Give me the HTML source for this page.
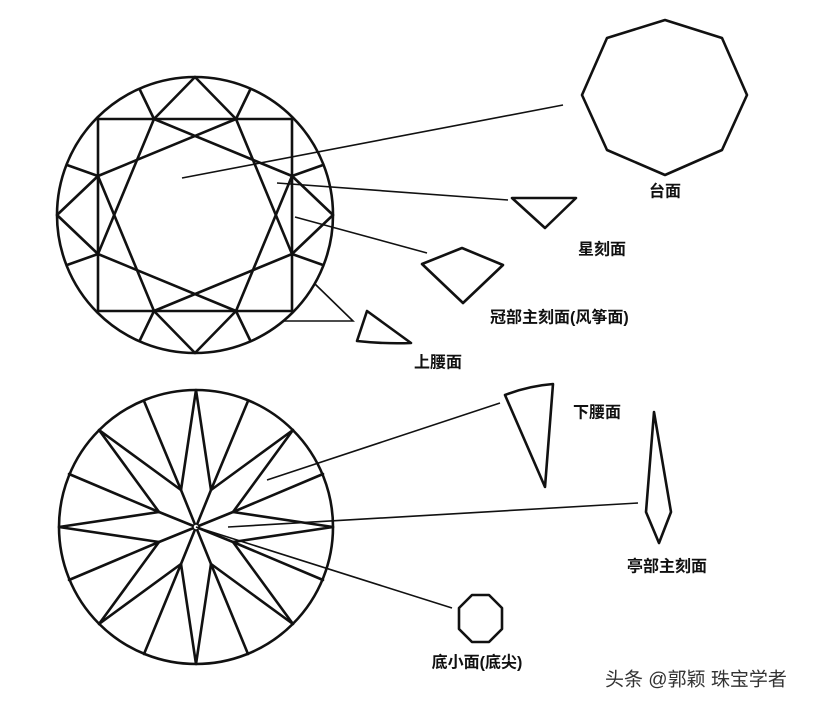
<!DOCTYPE html>
<html><head><meta charset="utf-8"><style>
html,body{margin:0;padding:0;background:#fff;}
svg{display:block;}
text{font-family:"Liberation Sans","Noto Sans CJK SC",sans-serif;font-weight:bold;font-size:16px;fill:#111;}
</style></head><body>
<svg width="823" height="708" viewBox="0 0 823 708" xmlns="http://www.w3.org/2000/svg">
<g fill="none" stroke="#111" stroke-width="2.6" stroke-linejoin="round" stroke-linecap="round">
<!-- top crown -->
<circle cx="195" cy="215" r="138"/>
<rect x="98" y="119" width="194" height="192"/>
<polygon points="154,119 292,176 236,311 98,254"/>
<polygon points="236,119 292,254 154,311 98,176"/>
<polyline points="154,119 195,77 236,119"/>
<polyline points="292,176 333,215 292,254"/>
<polyline points="236,311 195,353 154,311"/>
<polyline points="98,254 57,215 98,176"/>
<line x1="154" y1="119" x2="140" y2="90"/>
<line x1="236" y1="119" x2="250" y2="90"/>
<line x1="292" y1="176" x2="323" y2="165"/>
<line x1="292" y1="254" x2="323" y2="265"/>
<line x1="236" y1="311" x2="250" y2="340"/>
<line x1="154" y1="311" x2="140" y2="340"/>
<line x1="98" y1="254" x2="67" y2="265"/>
<line x1="98" y1="176" x2="67" y2="165"/>
<!-- bottom pavilion -->
<circle cx="196" cy="527" r="137"/>
<polygon points="333,527 233,542 293,624 211,564 196,664 181,564 99,624 159,542 59,527 159,512 99,430 181,490 196,390 211,490 293,430 233,512"/>
<path d="M196,527L233,542M196,527L211,564M196,527L181,564M196,527L159,542M196,527L159,512M196,527L181,490M196,527L211,490M196,527L233,512"/>
<path d="M233,542L323,580M211,564L248,654M181,564L144,654M159,542L69,580M159,512L69,474M181,490L144,401M211,490L248,401M233,512L323,474"/>
<circle cx="196" cy="527" r="3" stroke-width="1.5" fill="#fff"/>
<!-- shapes right -->
<polygon points="665,20 722,38 747,95 722,150 665,175 607,150 582,95 607,38"/>
<polygon points="512,198 576,198 545,228"/>
<polygon points="422,264 462,248 503,265 463,303"/>
<path d="M367,311L411,343Q384,344 357,341Z"/>
<path d="M505,395Q528,386 553,384L545,487Z"/>
<polygon points="654,412 671,512 659,543 646,512"/>
<polygon points="472,595 489,595 502,608 502,629 489,642 472,642 459,629 459,608"/>
</g>
<g stroke="#111" stroke-width="1.6" fill="none">
<line x1="182" y1="178" x2="563" y2="105"/>
<line x1="277" y1="183" x2="508" y2="200"/>
<line x1="295" y1="217" x2="427" y2="253"/>
<polyline points="315,284 353,321 283,321"/>
<line x1="267" y1="480" x2="500" y2="403"/>
<line x1="228" y1="527" x2="638" y2="503"/>
<line x1="196" y1="527" x2="452" y2="608"/>
</g>
<g dominant-baseline="central">
<text x="665" y="192" text-anchor="middle">台面</text>
<text x="602" y="250" text-anchor="middle">星刻面</text>
<text x="490" y="318">冠部主刻面(风筝面)</text>
<text x="438" y="363" text-anchor="middle">上腰面</text>
<text x="597" y="413" text-anchor="middle">下腰面</text>
<text x="667" y="567" text-anchor="middle">亭部主刻面</text>
<text x="477" y="663" text-anchor="middle">底小面(底尖)</text>
<text x="605" y="680" style="font-weight:normal;font-size:19px;fill:#333">头条 @郭颖 珠宝学者</text>
</g>
</svg>
</body></html>
